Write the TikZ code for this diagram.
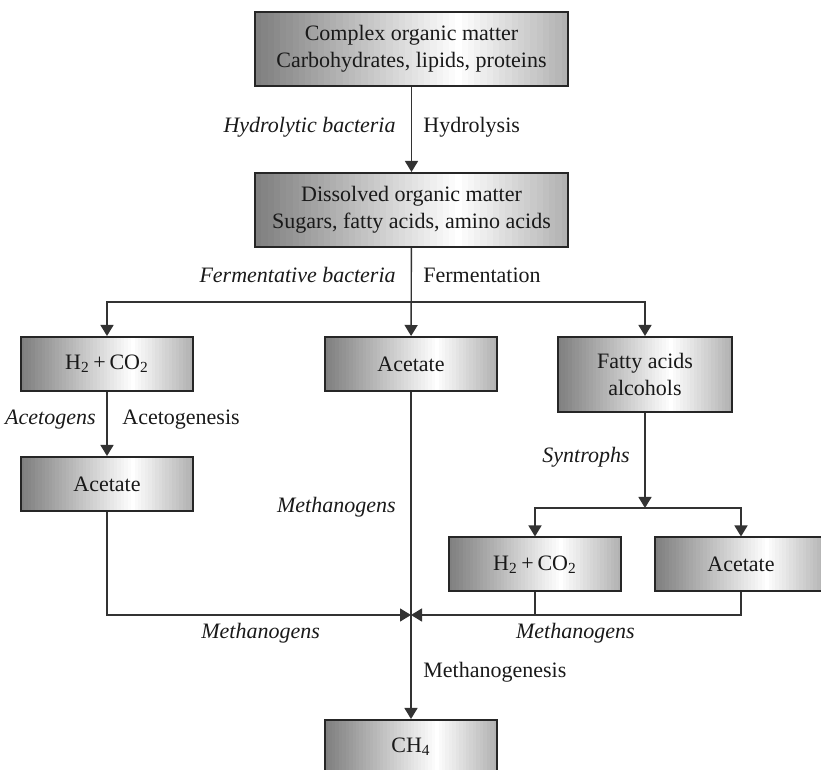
\documentclass[tikz,border=0pt]{standalone}
\usepackage{fontspec}
\setmainfont{Liberation Serif}
\usetikzlibrary{arrows.meta,calc}

\tikzset{
  stage/.style={draw=black!85, line width=1pt, fill=white, inner sep=2pt,
    align=center, text=black!90, font=\fontsize{11}{13.5}\selectfont,
    path picture={
      \foreach \k in {0,...,49}{
        \pgfmathsetmacro{\shd}{\k<32 ? 50*(1-\k/32) : 30*(\k-32)/17}
        \fill[black!\shd]
          ($(path picture bounding box.south west)!{\k/50}!(path picture bounding box.south east)$) rectangle
          ($(path picture bounding box.north west)!{(\k+1.4)/50}!(path picture bounding box.north east)$);
      }
    }},
  bigbox/.style={stage, minimum width=156.5pt, minimum height=37pt},
  smallbox/.style={stage, minimum width=86pt, minimum height=27pt},
  arr/.style={draw=black!80, line width=0.7pt, -{Triangle[length=5.5pt,width=6.5pt]}},
  conn/.style={draw=black!80, line width=0.7pt},
  lab/.style={inner sep=0pt, text=black!90, font=\fontsize{11}{13.5}\selectfont},
  labit/.style={lab, font=\fontsize{11}{13.5}\selectfont\itshape}
}

\begin{document}
\begin{tikzpicture}[x=0.5pt,y=-0.5pt]
    \clip (0,0) rectangle (821,770);
    \node[bigbox] (cplx) at (411.5,49) {Complex organic matter\\Carbohydrates, lipids, proteins};
    \node[bigbox] (diss) at (411.5,210) {Dissolved organic matter\\Sugars, fatty acids, amino acids};
    \node[smallbox] (h2a) at (107,364) {H\textsubscript{2}\,+\,CO\textsubscript{2}};
    \node[smallbox] (acm) at (411,364) {Acetate};
    \node[stage, minimum width=87pt, minimum height=37.5pt] (fat) at (645,374.5) {Fatty acids\\alcohols};
    \node[smallbox] (acl) at (107,484) {Acetate};
    \node[smallbox] (h2b) at (535,564.5) {H\textsubscript{2}\,+\,CO\textsubscript{2}};
    \node[smallbox] (acr) at (741,564.5) {Acetate};
    \node[smallbox] (ch4) at (411,747) {CH\textsubscript{4}};

    \coordinate (fork) at (411,302);
    \coordinate (fork2) at (645,508);
    \coordinate (join) at (411,615);

    \draw[arr] (cplx) -- (diss);
    \draw[arr] (diss) -- (acm);
    \draw[arr] (fork) -| (h2a);
    \draw[arr] (fork) -| (fat);
    \draw[arr] (h2a) -- (acl);
    \draw[arr] (acm) -- (ch4);
    \draw[arr] (fat) -- (fork2);
    \draw[arr] (fork2) -| (h2b);
    \draw[arr] (fork2) -| (acr);
    \draw[arr] (acl) |- (join);
    \draw[arr] (acr) |- (join);
    \draw[conn] (h2b) -- (h2b |- join);

    \node[labit, anchor=east] (hb) at (396,127) {Hydrolytic bacteria};
    \node[lab, anchor=west] (hy) at (423,127) {Hydrolysis};
    \node[labit, anchor=east] (fb) at (396,275) {Fermentative bacteria};
    \node[lab, anchor=west] (fe) at (423,275) {Fermentation};
    \node[labit, anchor=east] (ag) at (96,420) {Acetogens};
    \node[lab, anchor=west] (agn) at (122,420) {Acetogenesis};
    \node[labit, anchor=east] (mg1) at (396,507) {Methanogens};
    \node[labit, anchor=west] (sy) at (542,457) {Syntrophs};
    \node[labit, anchor=west] (mg2) at (201,633) {Methanogens};
    \node[labit, anchor=east] (mg3) at (635,633) {Methanogens};
    \node[lab, anchor=west] (mgn) at (423,672) {Methanogenesis};
\end{tikzpicture}
\end{document}
